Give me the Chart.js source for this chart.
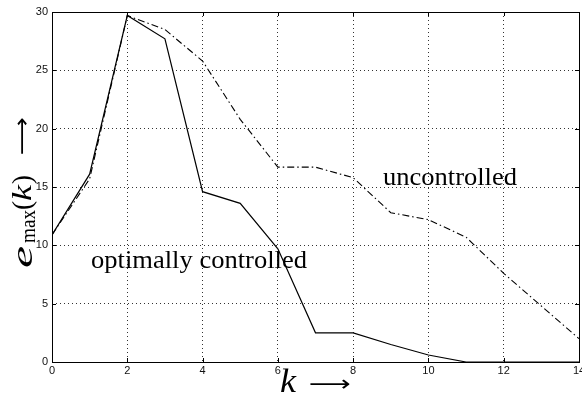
<!DOCTYPE html>
<html>
<head>
<meta charset="utf-8">
<script src="https://cdn.jsdelivr.net/npm/chart.js@4.4.0/dist/chart.umd.min.js"></script>
<style>
  html, body { margin: 0; padding: 0; background: #fff; overflow: hidden; }
  #wrap { width: 582px; height: 396px; overflow: hidden; }
</style>
</head>
<body>
<div id="wrap"><canvas id="chart" width="590" height="396"></canvas></div>
<script>
const steps = [0, 1, 2, 3, 4, 5, 6, 7, 8, 9, 10, 11, 12, 13, 14];
const optimal = [10.9, 16.1, 29.7, 27.7, 14.6, 13.6, 9.7, 2.5, 2.5, 1.5, 0.6, 0, 0, 0, 0];
const uncontrolled = [10.9, 15.7, 29.7, 28.5, 25.8, 20.8, 16.7, 16.7, 15.8, 12.8, 12.2, 10.7, 7.6, 4.8, 2.0];
const xTicks = [0, 2, 4, 6, 8, 10, 12, 14];
const yTicks = [0, 5, 10, 15, 20, 25, 30];

// draw text squeezed/stretched to a given width
function fitText(ctx, text, font, x, y, w) {
  ctx.font = font;
  const m = ctx.measureText(text).width;
  ctx.save();
  ctx.translate(x, y);
  ctx.scale(w / m, 1);
  ctx.fillText(text, 0, 0);
  ctx.restore();
}

// frame, inward ticks, axis labels and curve annotations
const decor = {
  id: 'decor',
  afterDraw(chart) {
    const { ctx, chartArea: a, scales } = chart;
    ctx.save();
    ctx.strokeStyle = '#000';
    ctx.lineWidth = 1;
    ctx.strokeRect(a.left + 0.5, a.top + 0.5, a.right - a.left, a.bottom - a.top);
    ctx.beginPath();
    xTicks.forEach(v => {
      const px = Math.round(scales.x.getPixelForValue(v)) + 0.5;
      ctx.moveTo(px, a.top); ctx.lineTo(px, a.top + 4);
      ctx.moveTo(px, a.bottom); ctx.lineTo(px, a.bottom - 4);
    });
    yTicks.forEach(v => {
      const py = Math.round(scales.y.getPixelForValue(v)) + 0.5;
      ctx.moveTo(a.left, py); ctx.lineTo(a.left + 4, py);
      ctx.moveTo(a.right, py); ctx.lineTo(a.right - 4, py);
    });
    ctx.stroke();

    ctx.fillStyle = '#000';
    ctx.textBaseline = 'alphabetic';
    fitText(ctx, 'optimally controlled', '25px "Liberation Serif"', 91, 268, 216);
    fitText(ctx, 'uncontrolled', '25px "Liberation Serif"', 383, 185, 134);

    // x title
    fitText(ctx, 'k', 'italic 34px "Liberation Serif"', 280, 392, 16);
    ctx.textBaseline = 'middle';
    fitText(ctx, '\u27F6', '22px "DejaVu Sans"', 309, 385, 42);

    // y title (rotated, reads bottom to top)
    ctx.translate(0, 268);
    ctx.rotate(-Math.PI / 2);
    ctx.textBaseline = 'alphabetic';
    fitText(ctx, 'e', 'italic 29px "Liberation Serif"', 0, 32, 22);
    fitText(ctx, 'max', '21px "Liberation Serif"', 25, 35, 33);
    fitText(ctx, '(', '28px "Liberation Serif"', 58, 31, 9);
    fitText(ctx, 'k', 'italic 28px "Liberation Serif"', 67, 31, 16);
    fitText(ctx, ')', '28px "Liberation Serif"', 84, 31, 9);
    ctx.textBaseline = 'middle';
    fitText(ctx, '\u27F6', '22px "DejaVu Sans"', 113, 23, 38);
    ctx.restore();
  }
};

new Chart(document.getElementById('chart'), {
  type: 'line',
  data: {
    labels: steps,
    datasets: [
      {
        label: 'optimally controlled',
        data: optimal,
        borderColor: '#000',
        borderWidth: 1.2,
        pointRadius: 0,
        tension: 0
      },
      {
        label: 'uncontrolled',
        data: uncontrolled,
        borderColor: '#000',
        borderWidth: 1.1,
        borderDash: [7, 3, 1.5, 3],
        pointRadius: 0,
        tension: 0
      }
    ]
  },
  plugins: [decor],
  options: {
    responsive: false,
    animation: false,
    layout: { padding: { top: 12, right: 11, left: 0, bottom: 0 } },
    plugins: { legend: { display: false }, tooltip: { enabled: false } },
    scales: {
      x: {
        type: 'linear',
        min: 0,
        max: 14,
        afterFit: s => { s.height = 34; },
        afterBuildTicks: s => { s.ticks = xTicks.map(v => ({ value: v })); },
        grid: { color: '#333', lineWidth: 1, drawTicks: false },
        border: { display: false, dash: [1, 3] },
        ticks: { color: '#111', font: { family: 'Liberation Sans', size: 11 }, padding: 2, maxRotation: 0 }
      },
      y: {
        min: 0,
        max: 30,
        afterFit: s => { s.width = 52; },
        afterBuildTicks: s => { s.ticks = yTicks.map(v => ({ value: v })); },
        grid: { color: '#333', lineWidth: 1, drawTicks: false },
        border: { display: false, dash: [1, 3] },
        ticks: { color: '#111', font: { family: 'Liberation Sans', size: 11 }, padding: 4 }
      }
    }
  }
});
</script>
</body>
</html>
